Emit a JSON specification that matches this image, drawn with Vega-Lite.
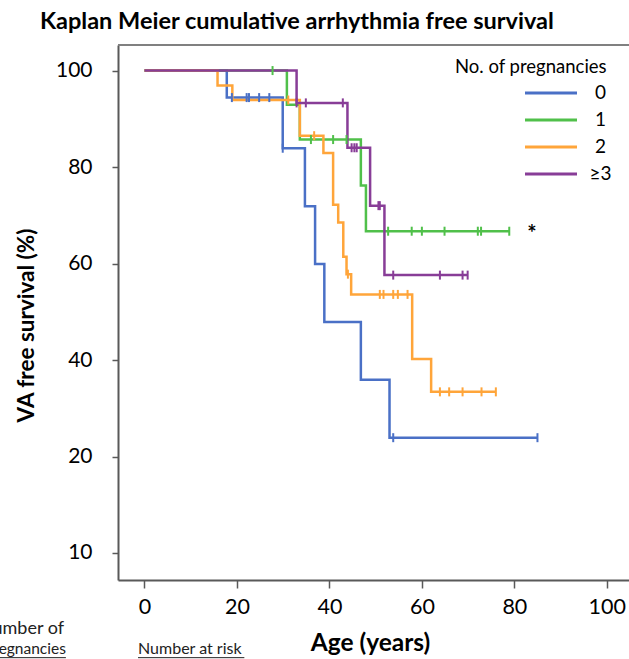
{
  "$schema": "https://vega.github.io/schema/vega-lite/v6.json",
  "autosize": {"type": "none"},
  "padding": {"left": 118, "top": 45, "right": 0, "bottom": 79},
  "width": 511,
  "height": 535,
  "background": "white",
  "config": {"view": {"stroke": null}, "font": "Lato"},
  "title": {"text": "Kaplan Meier cumulative arrhythmia free survival", "anchor": "start", "frame": "group", "dx": -78, "offset": 11, "fontSize": 23.5, "font": "Lato", "fontWeight": "bold", "color": "black"},
  "datasets": {
    "steps": [
      {"g": "0", "age": 0, "surv": 100}, {"g": "0", "age": 17.8, "surv": 94.4}, {"g": "0", "age": 29.9, "surv": 83.9}, {"g": "0", "age": 34.7, "surv": 71.9}, {"g": "0", "age": 36.9, "surv": 59.9}, {"g": "0", "age": 38.9, "surv": 47.9}, {"g": "0", "age": 46.8, "surv": 35.9}, {"g": "0", "age": 53.0, "surv": 23.9}, {"g": "0", "age": 85.0, "surv": 23.9},
      {"g": "1", "age": 0, "surv": 100}, {"g": "1", "age": 30.8, "surv": 92.9}, {"g": "1", "age": 33.6, "surv": 85.7}, {"g": "1", "age": 46.8, "surv": 76.2}, {"g": "1", "age": 47.9, "surv": 66.7}, {"g": "1", "age": 78.9, "surv": 66.7},
      {"g": "2", "age": 0, "surv": 100}, {"g": "2", "age": 15.8, "surv": 96.9}, {"g": "2", "age": 19.0, "surv": 93.9}, {"g": "2", "age": 33.6, "surv": 86.5}, {"g": "2", "age": 38.7, "surv": 82.9}, {"g": "2", "age": 40.8, "surv": 72.2}, {"g": "2", "age": 41.9, "surv": 68.5}, {"g": "2", "age": 43.0, "surv": 61.4}, {"g": "2", "age": 43.7, "surv": 57.8}, {"g": "2", "age": 44.7, "surv": 53.6}, {"g": "2", "age": 57.9, "surv": 40.2}, {"g": "2", "age": 62.0, "surv": 33.4}, {"g": "2", "age": 76.0, "surv": 33.4},
      {"g": "≥3", "age": 0, "surv": 100}, {"g": "≥3", "age": 32.9, "surv": 93.3}, {"g": "≥3", "age": 43.9, "surv": 84.0}, {"g": "≥3", "age": 48.8, "surv": 72.0}, {"g": "≥3", "age": 51.9, "surv": 57.6}, {"g": "≥3", "age": 69.9, "surv": 57.6}
    ],
    "censored": [
      {"g": "0", "age": 18.9, "surv": 94.4}, {"g": "0", "age": 22.1, "surv": 94.4}, {"g": "0", "age": 22.6, "surv": 94.4}, {"g": "0", "age": 24.8, "surv": 94.4}, {"g": "0", "age": 27.0, "surv": 94.4}, {"g": "0", "age": 29.9, "surv": 83.9}, {"g": "0", "age": 53.8, "surv": 23.9}, {"g": "0", "age": 85.0, "surv": 23.9},
      {"g": "1", "age": 27.7, "surv": 100}, {"g": "1", "age": 36.0, "surv": 85.7}, {"g": "1", "age": 40.8, "surv": 85.7}, {"g": "1", "age": 43.7, "surv": 85.7}, {"g": "1", "age": 52.7, "surv": 66.7}, {"g": "1", "age": 57.8, "surv": 66.7}, {"g": "1", "age": 60.0, "surv": 66.7}, {"g": "1", "age": 64.9, "surv": 66.7}, {"g": "1", "age": 72.1, "surv": 66.7}, {"g": "1", "age": 72.8, "surv": 66.7}, {"g": "1", "age": 78.9, "surv": 66.7},
      {"g": "2", "age": 31.1, "surv": 93.9}, {"g": "2", "age": 36.7, "surv": 86.5}, {"g": "2", "age": 44.0, "surv": 57.8}, {"g": "2", "age": 50.9, "surv": 53.6}, {"g": "2", "age": 51.7, "surv": 53.6}, {"g": "2", "age": 53.8, "surv": 53.6}, {"g": "2", "age": 54.8, "surv": 53.6}, {"g": "2", "age": 56.9, "surv": 53.6}, {"g": "2", "age": 63.9, "surv": 33.4}, {"g": "2", "age": 65.9, "surv": 33.4}, {"g": "2", "age": 68.8, "surv": 33.4}, {"g": "2", "age": 72.9, "surv": 33.4}, {"g": "2", "age": 76.0, "surv": 33.4},
      {"g": "≥3", "age": 32.9, "surv": 93.3}, {"g": "≥3", "age": 34.9, "surv": 93.3}, {"g": "≥3", "age": 42.9, "surv": 93.3}, {"g": "≥3", "age": 44.8, "surv": 84.0}, {"g": "≥3", "age": 45.4, "surv": 84.0}, {"g": "≥3", "age": 45.9, "surv": 84.0}, {"g": "≥3", "age": 50.6, "surv": 72.0}, {"g": "≥3", "age": 50.9, "surv": 72.0}, {"g": "≥3", "age": 53.8, "surv": 57.6}, {"g": "≥3", "age": 63.9, "surv": 57.6}, {"g": "≥3", "age": 68.8, "surv": 57.6}, {"g": "≥3", "age": 69.9, "surv": 57.6}
    ]
  },
  "layer": [
    {
      "data": {"name": "steps"},
      "mark": {"type": "line", "interpolate": "step-after", "strokeWidth": 2.5},
      "encoding": {
        "x": {"field": "age", "type": "quantitative", "scale": {"domain": [-5.73, 104.8], "nice": false, "zero": false},
          "axis": {"title": "Age (years)", "values": [0, 20, 40, 60, 80, 100], "grid": false, "labelFontSize": 21.5, "labelColor": "black", "labelFont": "Lato", "titleFont": "Lato", "titleFontSize": 24.5, "titleFontWeight": "bold", "titleColor": "black", "titleX": 252, "domainColor": "#595959", "domainWidth": 2, "tickColor": "#595959", "tickWidth": 1.5, "tickSize": 8, "labelPadding": 8, "titlePadding": 14}},
        "y": {"field": "surv", "type": "quantitative", "scale": {"domain": [-5.6, 105.3], "nice": false, "zero": false},
          "axis": {"title": "VA free survival (%)", "values": [0, 20, 40, 60, 80, 100], "labelExpr": "datum.value == 0 ? '10' : datum.label", "grid": false, "labelFontSize": 21, "labelColor": "black", "labelFont": "Lato", "titleFont": "Lato", "titleFontSize": 22.5, "titleFontWeight": "bold", "titleColor": "black", "titleY": 280, "domainColor": "#595959", "domainWidth": 2, "tickColor": "#595959", "tickWidth": 1.5, "tickSize": 6, "labelPadding": 20, "titlePadding": 17}},
        "color": {"field": "g", "type": "nominal",
          "scale": {"domain": ["0", "1", "2", "≥3"], "range": ["#4a70c6", "#50c04a", "#ffa53a", "#883d97"]},
          "legend": {"orient": "none", "legendX": 337, "legendY": 13, "direction": "vertical", "title": "No. of pregnancies", "titleFont": "Lato", "titleFontSize": 18.5, "titleFontWeight": "normal", "titleColor": "black", "titlePadding": 7, "labelFont": "Lato", "labelFontSize": 19, "labelColor": "black", "labelAlign": "center", "labelOffset": 40, "symbolType": "M-3.25,0H3.25", "symbolSize": 256, "symbolStrokeWidth": 3, "symbolOffset": 86.5, "rowPadding": 7}}
      }
    },
    {
      "data": {"name": "censored"},
      "mark": {"type": "point", "shape": "M0,-1V1", "size": 81, "strokeWidth": 2, "filled": false, "opacity": 1},
      "encoding": {
        "x": {"field": "age", "type": "quantitative"},
        "y": {"field": "surv", "type": "quantitative"},
        "color": {"field": "g", "type": "nominal", "legend": null}
      }
    },
    {
      "data": {"values": [{}]},
      "mark": {"type": "rule", "color": "#808080", "strokeWidth": 2},
      "encoding": {"y": {"datum": 105.3, "type": "quantitative"}}
    },
    {
      "data": {"values": [{}]},
      "mark": {"type": "text", "text": "*", "fontSize": 22, "fontWeight": "bold", "align": "center", "baseline": "alphabetic", "color": "black"},
      "encoding": {"x": {"datum": 83.8, "type": "quantitative"}, "y": {"datum": 64.7, "type": "quantitative"}}
    },
    {
      "data": {"values": [{}]},
      "mark": {"type": "text", "text": "Number of", "fontSize": 18, "align": "right", "baseline": "alphabetic", "color": "#222222"},
      "encoding": {"x": {"datum": -17.4, "type": "quantitative"}, "y": {"datum": -16.8, "type": "quantitative"}}
    },
    {
      "data": {"values": [{}]},
      "mark": {"type": "text", "text": "pregnancies", "fontSize": 15.5, "align": "right", "baseline": "alphabetic", "color": "#222222"},
      "encoding": {"x": {"datum": -17.0, "type": "quantitative"}, "y": {"datum": -21.0, "type": "quantitative"}}
    },
    {
      "data": {"values": [{}]},
      "mark": {"type": "text", "text": "Number at risk", "fontSize": 16, "align": "left", "baseline": "alphabetic", "color": "#222222"},
      "encoding": {"x": {"datum": -1.4, "type": "quantitative"}, "y": {"datum": -20.9, "type": "quantitative"}}
    },
    {
      "data": {"values": [{}]},
      "mark": {"type": "rule", "color": "#222222", "strokeWidth": 1},
      "encoding": {"x": {"datum": -45, "type": "quantitative"}, "x2": {"datum": -17.0}, "y": {"datum": -21.7, "type": "quantitative"}}
    },
    {
      "data": {"values": [{}]},
      "mark": {"type": "rule", "color": "#222222", "strokeWidth": 1},
      "encoding": {"x": {"datum": -1.4, "type": "quantitative"}, "x2": {"datum": 21.6}, "y": {"datum": -21.7, "type": "quantitative"}}
    }
  ]
}
